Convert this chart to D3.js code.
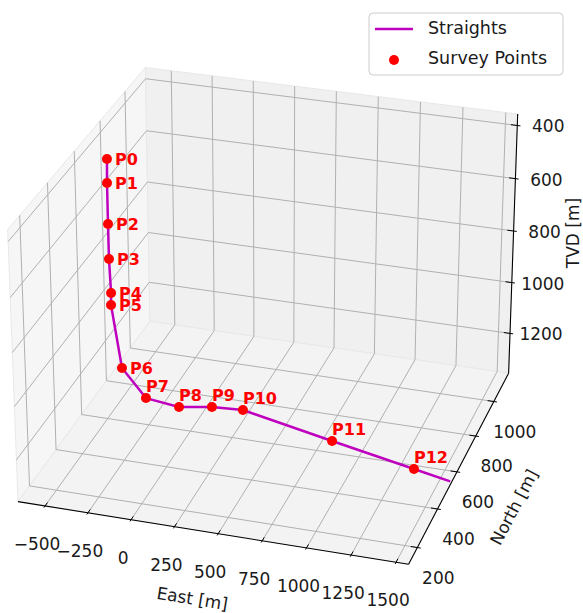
<!DOCTYPE html>
<html>
<head>
<meta charset="utf-8">
<script src="https://cdn.jsdelivr.net/npm/d3@7"></script>
<style>
  body { margin: 0; background: #fff; }
  text { font-family: "DejaVu Sans", sans-serif; }
</style>
</head>
<body>
<svg id="chart" width="583" height="613"></svg>
<script>
// survey points of the well
const pointLabels = ["P0", "P1", "P2", "P3", "P4", "P5", "P6", "P7", "P8", "P9", "P10", "P11", "P12"];
const surveyEast = [-623, -626, -626, -625, -617, -619, -530, -310, -95, 85, 265, 852, 1374];
const surveyNorth = [800, 800, 800, 800, 800, 800, 761, 660, 639, 665, 674, 583, 504];
const surveyTvd = [497, 587, 743, 877, 1008, 1055, 1270, 1300, 1300, 1300, 1300, 1300, 1300];

// the last straight carries on past P12
const straightEast = surveyEast.concat([1600]);
const straightNorth = surveyNorth.concat([470]);
const straightTvd = surveyTvd.concat([1300]);

const eastTicks = [-500, -250, 0, 250, 500, 750, 1000, 1250, 1500];
const northTicks = [200, 400, 600, 800, 1000];
const tvdTicks = [400, 600, 800, 1000, 1200];

// axes box and camera, matplotlib style
const xlim = [-658.9, 1569.4];
const ylim = [115.7, 1169.4];
const zlim = [357.4, 1358.6];
const view = { elev: 27.38, azim: -72.83, dist: 10.157, box: [1, 1.0056, 0.749] };

const svg = d3.select("#chart");

// box aspect normalised like mpl does
const boxLen = Math.hypot(...view.box);
const asp = view.box.map(d => d * 1.8294640721620434 / boxLen);

const xs = d3.scaleLinear().domain(xlim).range([0, asp[0]]);
const ys = d3.scaleLinear().domain(ylim).range([0, asp[1]]);
const zs = d3.scaleLinear().domain(zlim).range([asp[2], 0]); // TVD grows downwards

const dot = (a, b) => a[0] * b[0] + a[1] * b[1] + a[2] * b[2];
const cross = (a, b) => [a[1] * b[2] - a[2] * b[1], a[2] * b[0] - a[0] * b[2], a[0] * b[1] - a[1] * b[0]];
const unit = a => { const l = Math.hypot(...a); return a.map(d => d / l); };

const el = view.elev * Math.PI / 180, az = view.azim * Math.PI / 180;
const look = [Math.cos(el) * Math.cos(az), Math.cos(el) * Math.sin(az), Math.sin(el)];
const eye = asp.map((d, i) => d / 2 + view.dist * look[i]);
const w = unit(look), u = unit(cross([0, 0, 1], w)), v = cross(w, u);

// projected plane -> pixels
const sx = d3.scaleLinear().domain([0, 1]).range([271.3, 271.3 + 3552.19]);
const sy = d3.scaleLinear().domain([0, 1]).range([305.145, 305.145 - 3552.19]);

function project(e, n, t) {
  const p = [xs(e), ys(n), zs(t)];
  const d = p.map((c, i) => c - eye[i]);
  const depth = -dot(w, d);
  return [sx(dot(u, d) / depth), sy(dot(v, d) / depth)];
}

const line = d3.line();
const [x0, x1] = xlim, [y0, y1] = ylim, [zTop, zBot] = zlim;

// panes
const panes = [
  { fill: "#f6f6f6", c: [[x0, y0, zTop], [x0, y1, zTop], [x0, y1, zBot], [x0, y0, zBot]] },
  { fill: "#f0f0f0", c: [[x0, y1, zTop], [x1, y1, zTop], [x1, y1, zBot], [x0, y1, zBot]] },
  { fill: "#f3f3f3", c: [[x0, y0, zBot], [x1, y0, zBot], [x1, y1, zBot], [x0, y1, zBot]] }
];
svg.append("g").selectAll("path").data(panes).join("path")
  .attr("d", d => line(d.c.map(c => project(...c))) + "Z")
  .attr("fill", d => d.fill)
  .attr("stroke", "#e8e8e8");

// grid
const grid = [];
eastTicks.forEach(t => grid.push([[t, y0, zBot], [t, y1, zBot], [t, y1, zTop]]));
northTicks.forEach(t => grid.push([[x1, t, zBot], [x0, t, zBot], [x0, t, zTop]]));
tvdTicks.forEach(t => grid.push([[x0, y0, t], [x0, y1, t], [x1, y1, t]]));
svg.append("g").selectAll("path").data(grid).join("path")
  .attr("d", d => line(d.map(c => project(...c))))
  .attr("fill", "none")
  .attr("stroke", "#b0b0b0")
  .attr("stroke-width", 1);

// axis lines and ticks
const axes = svg.append("g").attr("stroke", "#000").attr("fill", "none");
[[[x0, y0, zBot], [x1, y0, zBot]], [[x1, y0, zBot], [x1, y1, zBot]], [[x1, y1, zBot], [x1, y1, zTop]]]
  .forEach(seg => axes.append("path").attr("d", line(seg.map(c => project(...c)))).attr("stroke-width", 1.1));

const dx = (x1 - x0) / 12, dy = (y1 - y0) / 12;
const tickSegs = [];
eastTicks.forEach(t => tickSegs.push([[t, y0 - 0.1 * dy, zBot], [t, y0 + 0.2 * dy, zBot]]));
northTicks.forEach(t => tickSegs.push([[x1 + 0.1 * dx, t, zBot], [x1 - 0.2 * dx, t, zBot]]));
tvdTicks.forEach(t => tickSegs.push([[x1 + 0.1 * dx, y1, t], [x1 - 0.2 * dx, y1, t]]));
tickSegs.forEach(seg => axes.append("path").attr("d", line(seg.map(c => project(...c)))).attr("stroke-width", 1));

// tick labels
const fmt = d => d < 0 ? "\u2212" + Math.abs(d) : String(d);
const tickText = svg.append("g").attr("font-size", 17).attr("fill", "#1a1a1a")
  .attr("text-anchor", "middle").attr("dominant-baseline", "central");
eastTicks.forEach(t => {
  const p = project(t, y0, zBot);
  tickText.append("text").attr("x", p[0] - 8).attr("y", p[1] + 38).text(fmt(t));
});
northTicks.forEach(t => {
  const p = project(x1, t, zBot);
  tickText.append("text").attr("x", p[0] + 21).attr("y", p[1] + 30).text(fmt(t));
});
tvdTicks.forEach(t => {
  const p = project(x1, y1, t);
  tickText.append("text").attr("x", p[0] + 31).attr("y", p[1] + 1).text(fmt(t));
});

// axis titles, turned along their axes
function edgeAngle(a, b) {
  const pa = project(...a), pb = project(...b);
  return Math.atan2(pb[1] - pa[1], pb[0] - pa[0]) * 180 / Math.PI;
}
const titles = [
  { text: "East [m]", at: project((x0 + x1) / 2, y0, zBot), off: [-18, 66], rot: edgeAngle([x0, y0, zBot], [x1, y0, zBot]) },
  { text: "North [m]", at: project(x1, (y0 + y1) / 2, zBot), off: [53, 43], rot: edgeAngle([x1, y0, zBot], [x1, y1, zBot]) },
  { text: "TVD [m]", at: project(x1, y1, (zTop + zBot) / 2), off: [60, -13], rot: -90 }
];
svg.append("g").selectAll("text").data(titles).join("text")
  .attr("transform", d => `translate(${d.at[0] + d.off[0]},${d.at[1] + d.off[1]}) rotate(${d.rot})`)
  .attr("text-anchor", "middle").attr("dominant-baseline", "central")
  .attr("font-size", 17).attr("fill", "#1a1a1a")
  .text(d => d.text);

// well path
const pathPts = straightEast.map((e, i) => project(e, straightNorth[i], straightTvd[i]));
svg.append("path")
  .attr("d", line(pathPts))
  .attr("fill", "none")
  .attr("stroke", "#bf00bf")
  .attr("stroke-width", 2.5)
  .attr("stroke-linejoin", "round");

const survey = surveyEast.map((e, i) => {
  const p = project(e, surveyNorth[i], surveyTvd[i]);
  return { label: pointLabels[i], x: p[0], y: p[1] };
});
svg.append("g").selectAll("circle").data(survey).join("circle")
  .attr("cx", d => d.x).attr("cy", d => d.y).attr("r", 5).attr("fill", "#ff0000");

// labels go to the right on the steep part, above on the flat part
survey.forEach((d, i) => {
  const a = survey[Math.max(i - 1, 0)], b = pathPts[i + 1];
  d.steep = Math.abs(b[1] - a.y) > Math.abs(b[0] - a.x);
});
svg.append("g").selectAll("text").data(survey).join("text")
  .attr("x", d => d.steep ? d.x + 8 : d.x)
  .attr("y", d => d.steep ? d.y + 6 : d.y - 6)
  .attr("font-family", "'Liberation Sans', Arial, sans-serif")
  .attr("font-weight", "bold")
  .attr("font-size", 16)
  .attr("fill", "#ff0000")
  .text(d => d.label);

// legend
const lg = svg.append("g").attr("transform", "translate(369,13)");
lg.append("rect").attr("width", 194).attr("height", 62).attr("rx", 4)
  .attr("fill", "#fff").attr("fill-opacity", 0.8).attr("stroke", "#cccccc");
lg.append("line").attr("x1", 6).attr("x2", 44).attr("y1", 16).attr("y2", 16)
  .attr("stroke", "#bf00bf").attr("stroke-width", 2.5);
lg.append("circle").attr("cx", 25).attr("cy", 47).attr("r", 5).attr("fill", "#ff0000");
lg.selectAll("text.item").data(["Straights", "Survey Points"]).join("text")
  .attr("x", 59).attr("y", (d, i) => 15 + i * 30)
  .attr("dominant-baseline", "central")
  .attr("font-size", 17.5).attr("fill", "#1a1a1a")
  .text(d => d);
</script>
</body>
</html>
